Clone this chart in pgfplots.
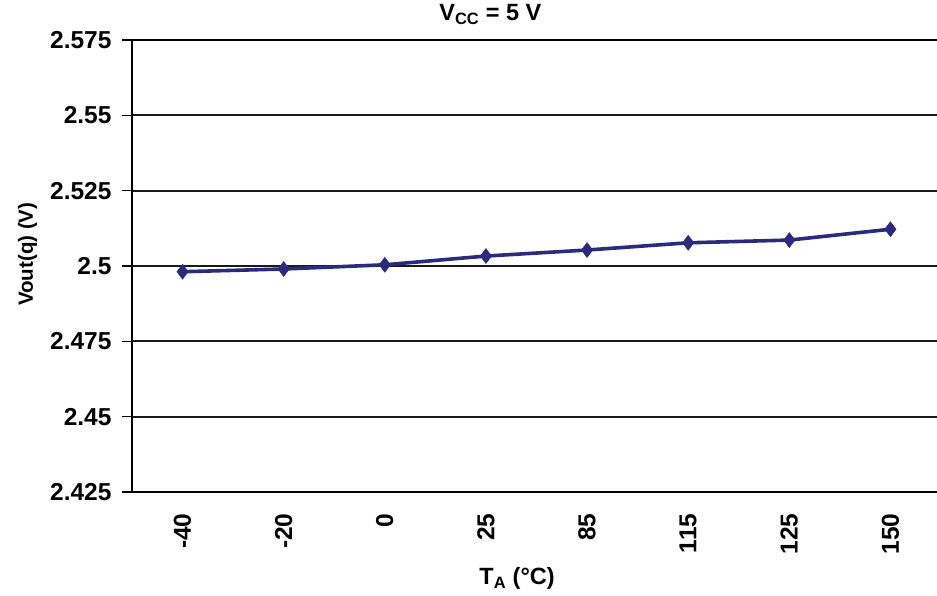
\documentclass[border=0pt]{standalone}
\usepackage{pgfplots}
\pgfplotsset{compat=1.18}
\usepackage{fontspec}
\setmainfont{Liberation Sans}
\definecolor{navyline}{RGB}{43,43,125}
\begin{document}
\begin{tikzpicture}
\begin{axis}[
  scale only axis,
  width=809pt, height=452pt,
  at={(0,0)}, anchor=south west,
  xmin=-0.5, xmax=7.5,
  ymin=2.425, ymax=2.575,
  ytick={2.425,2.45,2.475,2.5,2.525,2.55,2.575},
  yticklabels={2.425,2.45,2.475,2.5,2.525,2.55,2.575},
  xtick={0,1,2,3,4,5,6,7},
  xticklabels={-40,-20,0,25,85,115,125,150},
  minor xtick={-0.5,0.5,1.5,2.5,3.5,4.5,5.5,6.5,7.5},
  xtick style={draw=none},
  minor x tick style={line width=1.6pt, black},
  ytick style={line width=1.6pt, black},
  major tick length=10pt, minor tick length=10pt,
  tick align=outside,
  axis x line*=bottom, axis y line*=left,
  axis line style={-, line width=2.6pt, black},
  ymajorgrids,
  major grid style={line width=1.7pt, black!90},
  /pgf/number format/assume math mode=true,
  ticklabel style={font=\fontsize{24.5}{27}\selectfont\bfseries},
  yticklabel style={anchor=east, xshift=-7pt},
  xticklabel style={rotate=90, anchor=east, xshift=-8pt},
  title={V\textsubscript{CC} = 5 V},
  title style={at={([yshift=13pt]axis description cs:0.443,1)}, anchor=base, font=\fontsize{23.5}{26}\selectfont\bfseries},
  xlabel={T\textsubscript{A} (°C)},
  xlabel style={at={([yshift=-93pt]axis description cs:0.476,0)}, anchor=base, font=\fontsize{23.5}{26}\selectfont\bfseries},
  ylabel={Vout(q) (V)},
  ylabel style={at={([xshift=-99pt]axis description cs:0,0.526)}, anchor=base, font=\fontsize{20.5}{24}\selectfont\bfseries},
  clip=false,
]
\addplot[color=navyline, line width=3.6pt, mark=diamond*, mark size=7.5pt, mark options={solid, fill=navyline, line width=0.5pt}]
coordinates {
(0,2.4981) (1,2.4990) (2,2.5004) (3,2.5033) (4,2.5053) (5,2.5077) (6,2.5086) (7,2.5122)
};
\draw[line width=2.6pt, black] (rel axis cs:0,1) -- (rel axis cs:1,1);
\end{axis}
\pgfresetboundingbox
\path[use as bounding box] (-132pt,-104pt) rectangle (805pt,492pt);
\end{tikzpicture}
\end{document}
